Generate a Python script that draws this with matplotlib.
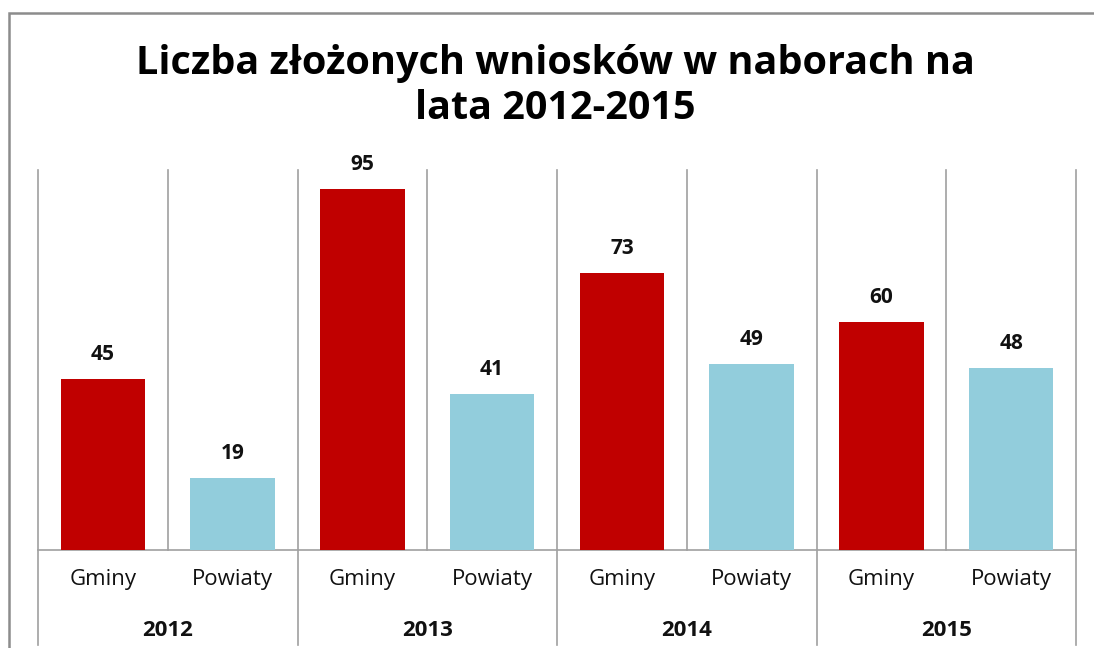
import matplotlib
matplotlib.use("Agg")
import matplotlib.pyplot as plt
from matplotlib.patches import Rectangle
from matplotlib.lines import Line2D
import matplotlib.transforms as mtransforms

years = ["2012", "2013", "2014", "2015"]
groups = ["Gminy", "Powiaty"]
gminy = [45, 95, 73, 60]
powiaty = [19, 41, 49, 48]
title = "Liczba złożonych wniosków w naborach na\nlata 2012-2015"

plt.rcParams['font.family'] = ['Open Sans', 'DejaVu Sans']

W, H = 1094, 648
fig = plt.figure(figsize=(W / 100, H / 100), dpi=100)
ax = fig.add_axes([38 / W, 1 - 550 / H, (1076 - 38) / W, (550 - 170) / H])

values = []
colors = []
labels = []
for g, p in zip(gminy, powiaty):
    values += [g, p]
    colors += ["#C00000", "#92CDDC"]
    labels += groups
xs = list(range(len(values)))
bars = ax.bar(xs, values, width=0.65, color=colors, zorder=3)
for x, v in zip(xs, values):
    ax.annotate(str(v), (x, v), xytext=(0, 10), textcoords="offset points",
                ha="center", va="bottom", fontsize=15, fontweight="bold", color="#111111")

ax.set_xlim(-0.5, len(values) - 0.5)
ax.set_ylim(0, 100)
for s in ["top", "right", "left"]:
    ax.spines[s].set_visible(False)
ax.spines["bottom"].set_color("#A0A0A0")
ax.spines["bottom"].set_linewidth(1.2)
ax.set_yticks([])
ax.set_xticks([])

trans = mtransforms.blended_transform_factory(ax.transData, ax.transAxes)
grid_c = "#A0A0A0"
for i in range(len(values) + 1):
    xb = i - 0.5
    y0 = -0.25 if i % 2 == 0 else 0.0
    ax.add_line(Line2D([xb, xb], [y0, 1.0], transform=trans, color=grid_c,
                       lw=1.2, clip_on=False, zorder=1))

for x, lab in zip(xs, labels):
    ax.text(x, -30 / 380, lab, transform=trans, ha="center", va="center",
            fontsize=16, color="#111111")
for i, yr in enumerate(years):
    ax.text(2 * i + 0.5, -80 / 380, yr, transform=trans, ha="center", va="center",
            fontsize=16, fontweight="bold", color="#111111")

fig.text(555 / W, 1 - 86 / H, title, ha="center", va="center", fontsize=28.5,
         fontweight="bold", color="#000000", linespacing=1.2)

fig.add_artist(Rectangle((9 / W, -0.1), 1.2, 1 - 13 / H + 0.1, transform=fig.transFigure,
                         fill=False, edgecolor="#8C8C8C", lw=1.8))

fig.savefig("out.png", dpi=100)
